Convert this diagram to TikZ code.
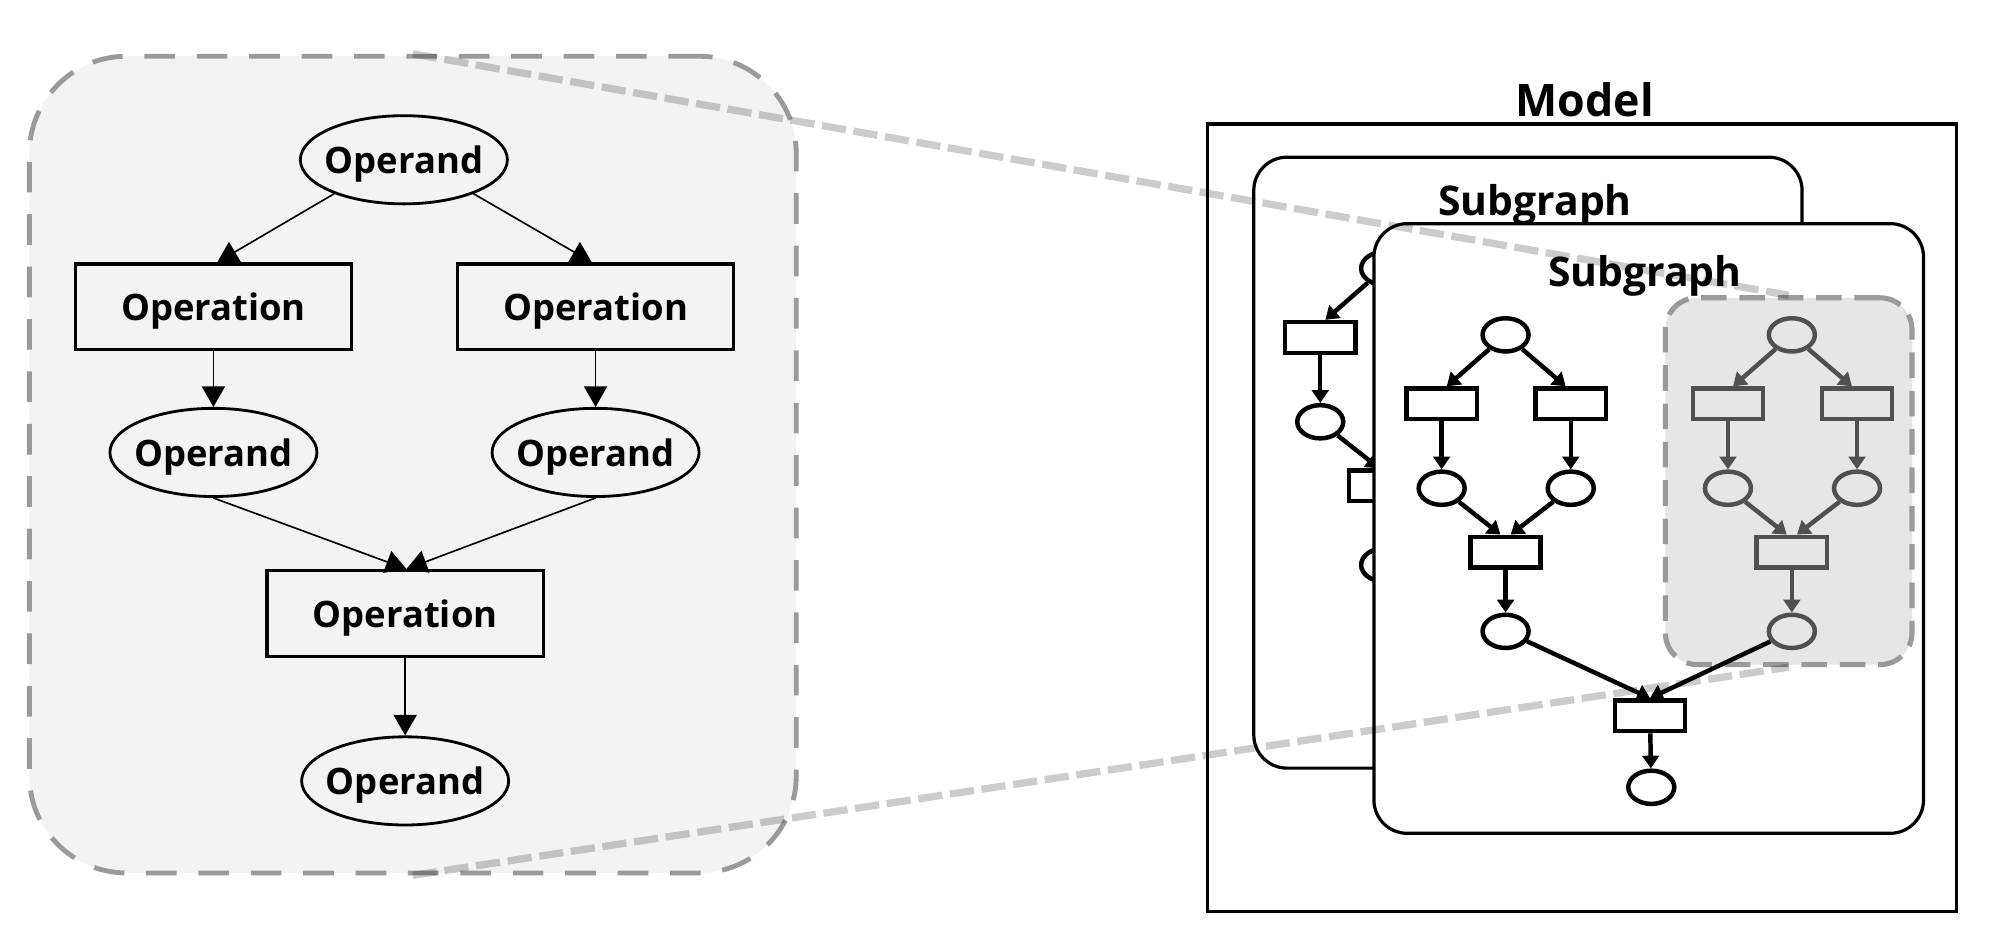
\documentclass[tikz,border=0pt]{standalone}
\usepackage{fontspec}
\setmainfont{Open Sans}[BoldFont={Open Sans Bold}]
\usetikzlibrary{arrows.meta,shapes.geometric,calc}
\definecolor{boxgray}{HTML}{F3F3F3}
\definecolor{dashgray}{HTML}{9A9A9A}
\definecolor{hlfill}{HTML}{E6E6E6}
\definecolor{ggray}{HTML}{505050}
\tikzset{
  lo/.style={ellipse,draw,line width=2.2pt,minimum width=162pt,minimum height=69pt,inner sep=0pt,text depth=0pt,font=\fontsize{28.5}{32}\selectfont\bfseries},
  lr/.style={rectangle,draw,line width=2.6pt,minimum width=216pt,minimum height=67pt,inner sep=0pt,text depth=0pt,font=\fontsize{28.5}{32}\selectfont\bfseries},
  la/.style={line width=1.3pt,-{Triangle[length=16pt,width=18pt]}},
  sc/.style={ellipse,draw,line width=3.5pt,minimum width=36pt,minimum height=26pt,inner sep=0pt},
  sr/.style={rectangle,draw,line width=3.5pt,minimum width=55pt,minimum height=24pt,inner sep=0pt},
  sa/.style={line width=3.5pt,-{Triangle[length=10pt,width=13pt]}},
  sgbox/.style={draw,line width=2.5pt,fill=white,rounded corners=26pt,inner sep=0pt},
  lbl/.style={font=\fontsize{32}{36}\selectfont\bfseries,inner sep=0pt,anchor=base},
  zoomline/.style={draw=black,draw opacity=0.2,line width=5.7pt,dash pattern=on 19pt off 6pt}
}
% #1 prefix, #2 colour, #3 dx, #4 dy
\newcommand{\pgraph}[4]{%
  \node[sc,draw=#2] (#1t) at (1178+#3,262+#4) {};
  \node[sr,draw=#2] (#1a) at (1128+#3,316+#4) {};
  \node[sr,draw=#2] (#1b) at (1229+#3,316+#4) {};
  \node[sc,draw=#2] (#1c) at (1128+#3,382+#4) {};
  \node[sc,draw=#2] (#1d) at (1229+#3,382+#4) {};
  \node[sr,draw=#2] (#1m) at (1178+#3,432+#4) {};
  \node[sc,draw=#2] (#1e) at (1178+#3,494+#4) {};
  \draw[sa,draw=#2,fill=#2] (#1t) -- ([xshift=4pt]#1a.north);
  \draw[sa,draw=#2,fill=#2] (#1t) -- ([xshift=-4pt]#1b.north);
  \draw[sa,draw=#2,fill=#2] (#1a) -- (#1c);
  \draw[sa,draw=#2,fill=#2] (#1b) -- (#1d);
  \draw[sa,draw=#2,fill=#2] (#1c) -- ([xshift=-4pt]#1m.north);
  \draw[sa,draw=#2,fill=#2] (#1d) -- ([xshift=4pt]#1m.north);
  \draw[sa,draw=#2,fill=#2] (#1m) -- (#1e);
}
\begin{document}
\begin{tikzpicture}[x=1pt,y=-1pt]
\useasboundingbox (0,0) rectangle (1568,742);
% left zoomed panel
\node[draw=dashgray,fill=boxgray,line width=3.8pt,dash pattern=on 24pt off 17pt,rounded corners=76pt,minimum width=600pt,minimum height=639pt,inner sep=0pt] (zsrc) at (323,363.5) {};
\node[lo] (oT) at (316,125) {\makebox[0pt]{Operand}};
\node[lr] (pL) at (167,240) {\makebox[0pt]{Operation}};
\node[lr] (pR) at (466,240) {\makebox[0pt]{Operation}};
\node[lo] (oL) at (167,354) {\makebox[0pt]{Operand}};
\node[lo] (oR) at (466,354) {\makebox[0pt]{Operand}};
\node[lr] (pB) at (317,480) {\makebox[0pt]{Operation}};
\node[lo] (oB) at (317,611) {\makebox[0pt]{Operand}};
\draw[la] (oT.206) -- ([xshift=3pt]pL.north);
\draw[la] (oT.-26) -- ([xshift=-3pt]pR.north);
\draw[la] (pL) -- (oL);
\draw[la] (pR) -- (oR);
\draw[la] (oL.south) -- ([xshift=1pt]pB.north);
\draw[la] (oR.south) -- ([xshift=1pt]pB.north);
\draw[la] (pB) -- (oB);
% model
\node[draw,line width=2.5pt,minimum width=586pt,minimum height=616pt,inner sep=0pt] (model) at (1238,405) {};
\node[font=\fontsize{35}{40}\selectfont\bfseries,inner sep=0pt,anchor=base] (modellbl) at (1240,91) {Model};
% back subgraph
\node[sgbox,minimum width=429pt,minimum height=478pt] (sgback) at (1195.5,362) {};
\node[lbl] (sgbacklbl) at (1201,169) {Subgraph};
\pgraph{k}{black}{-95}{-52}
% front subgraph
\node[sgbox,minimum width=430pt,minimum height=477pt] (sgfront) at (1290,413.5) {};
\node[lbl] (sgfrontlbl) at (1287,224.5) {Subgraph};
\node[draw=dashgray,fill=hlfill,line width=4pt,dash pattern=on 20pt off 10pt,rounded corners=25pt,minimum width=193pt,minimum height=287pt,inner sep=0pt] (hl) at (1399.5,376.5) {};
% front graphs
\pgraph{f}{black}{0}{0}
\pgraph{g}{ggray}{224}{0}
\node[sr] (fb) at (1291,560) {};
\node[sc] (fo) at (1292,616) {};
\draw[sa,fill=black] (fe) -- (fb.north);
\draw[sa,fill=black] (ge) -- (fb.north);
\draw[sa,fill=black] (fb) -- (fo);
% zoom lines (translucent, so black strokes show through)
\draw[zoomline] (zsrc.north) -- (hl.north);
\draw[zoomline] (zsrc.south) -- (hl.south);
\end{tikzpicture}
\end{document}
